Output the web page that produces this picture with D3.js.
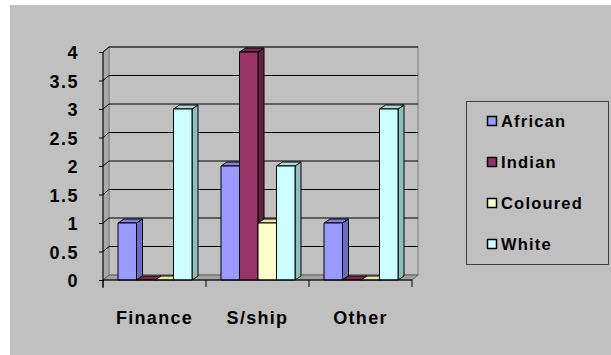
<!DOCTYPE html>
<html lang="en">
<head>
<meta charset="UTF-8">
<title>Column chart</title>
<script src="https://d3js.org/d3.v7.min.js"></script>
<style>
  body { margin: 0; background: #fff; }
  svg { display: block; }
  text { font-family: "Liberation Sans", Arial, sans-serif; font-weight: bold; fill: #000; }
</style>
</head>
<body>
<script>
// chart data
const categories = ["Finance", "S/ship", "Other"];
const seriesNames = ["African", "Indian", "Coloured", "White"];
const african = [1, 2, 1];
const indian = [0, 4, 0];
const coloured = [0, 1, 0];
const white = [3, 2, 3];
const yTicks = [0, 0.5, 1, 1.5, 2, 2.5, 3, 3.5, 4];

const seriesValues = [african, indian, coloured, white];
// front, side, top colours for each series
const colors = [
  { front: "#9999FF", side: "#6B6BC4", top: "#8080E0" },
  { front: "#993366", side: "#66203F", top: "#7A2950" },
  { front: "#FFFFCC", side: "#C4C49A", top: "#E6E6B0" },
  { front: "#CCFFFF", side: "#8FBDBD", top: "#A6D9D9" }
];

const W = 611, H = 355;
const svg = d3.select("body").append("svg").attr("width", W).attr("height", H);

svg.append("rect").attr("x", 10).attr("y", 5).attr("width", W - 10).attr("height", H - 5)
  .attr("fill", "#C0C0C0");

const x0 = d3.scaleBand().domain(categories).range([103, 412]);
const x1 = d3.scaleBand().domain(seriesNames).range([15, x0.bandwidth() - 14]);
const y = d3.scaleLinear().domain([0, 4]).range([280, 52]);

const dx = 6, dy = -5;       // wall depth
const bdx = 6, bdy = -4;     // bar depth

const left = x0.range()[0], right = x0.range()[1];
const pts = a => a.map(p => p.join(",")).join(" ");

// back wall
svg.append("rect")
  .attr("x", left + dx).attr("y", y(4) + dy)
  .attr("width", right - left).attr("height", y(0) - y(4))
  .attr("fill", "#C0C0C0").attr("stroke", "#808080").attr("stroke-width", 1);

// side wall
svg.append("polygon")
  .attr("points", pts([[left, y(0)], [left + dx, y(0) + dy], [left + dx, y(4) + dy], [left, y(4)]]))
  .attr("fill", "#A8A8A8").attr("stroke", "#808080");

// floor
svg.append("polygon")
  .attr("points", pts([[left, y(0)], [right, y(0)], [right + dx, y(0) + dy], [left + dx, y(0) + dy]]))
  .attr("fill", "#A0A0A0").attr("stroke", "#606060");

// gridlines
yTicks.filter(d => d > 0).forEach(t => {
  svg.append("polyline")
    .attr("points", pts([[left, y(t)], [left + dx, y(t) + dy], [right + dx, y(t) + dy]]))
    .attr("fill", "none").attr("stroke", "#000").attr("stroke-width", 1);
});

// bars
categories.forEach((cat, ci) => {
  seriesNames.forEach((s, si) => {
    const v = seriesValues[si][ci];
    const bx = x0(cat) + x1(s);
    const bw = x1.bandwidth();
    const yt = y(v), yb = y(0);
    const c = colors[si];
    const g = svg.append("g").attr("stroke", "#000").attr("stroke-width", 1).attr("stroke-linejoin", "round");
    g.append("polygon")
      .attr("points", pts([[bx + bw, yb], [bx + bw + bdx, yb + bdy], [bx + bw + bdx, yt + bdy], [bx + bw, yt]]))
      .attr("fill", c.side);
    g.append("polygon")
      .attr("points", pts([[bx, yt], [bx + bw, yt], [bx + bw + bdx, yt + bdy], [bx + bdx, yt + bdy]]))
      .attr("fill", c.top);
    if (v > 0) {
      g.append("rect").attr("x", bx).attr("y", yt).attr("width", bw).attr("height", yb - yt)
        .attr("fill", c.front);
    }
  });
});

// y axis
const yAxis = svg.append("g").attr("transform", `translate(${left},0)`)
  .call(d3.axisLeft(y).tickValues(yTicks).tickSize(4).tickPadding(20).tickFormat(d3.format("")));
yAxis.select(".domain").attr("stroke", "#000").attr("d", `M0,${y(0) + 8}V${y(4)}`);
yAxis.selectAll("line").attr("stroke", "#000");
yAxis.selectAll("text").attr("font-size", 18).attr("font-family", null).attr("font-weight", "bold")
  .attr("letter-spacing", 1.5).attr("dy", "0.38em");

// x axis
const xAxis = svg.append("g").attr("transform", `translate(0,${y(0)})`)
  .call(d3.axisBottom(x0).tickSize(0).tickPadding(31));
xAxis.select(".domain").attr("stroke", "#000").attr("d", `M${left},0H${right}`);
xAxis.selectAll("text").attr("font-size", 18).attr("font-family", null).attr("letter-spacing", 1.3);
xAxis.selectAll("line.sep").data(x0.domain().map(d => x0(d)).concat([right]))
  .enter().append("line").attr("class", "sep")
  .attr("x1", d => d).attr("x2", d => d).attr("y1", 0).attr("y2", 7).attr("stroke", "#000");

// legend
const legend = svg.append("g");
legend.append("rect").attr("x", 466.5).attr("y", 101.5).attr("width", 142).attr("height", 163)
  .attr("fill", "#C0C0C0").attr("stroke", "#404040");
seriesNames.forEach((s, i) => {
  const ly = 121 + i * 41;
  legend.append("rect").attr("x", 487.5).attr("y", ly - 4.5).attr("width", 9).attr("height", 9)
    .attr("fill", colors[i].front).attr("stroke", "#000").attr("stroke-width", 1.5);
  legend.append("text").attr("x", 501).attr("y", ly).attr("dy", "0.35em")
    .attr("font-size", 16.5).attr("letter-spacing", 1.2).text(s);
});
</script>
</body>
</html>
